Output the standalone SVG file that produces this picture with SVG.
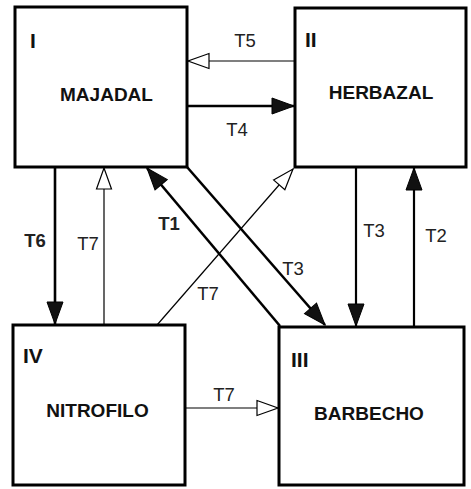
<svg xmlns="http://www.w3.org/2000/svg" width="471" height="489" viewBox="0 0 471 489">
<style>
.box{fill:#fff;stroke:#000;stroke-width:3}
.name{font-family:"Liberation Sans",Arial,sans-serif;font-size:19px;font-weight:bold;text-anchor:middle;fill:#111}
.num{font-family:"Liberation Sans",Arial,sans-serif;font-size:21px;font-weight:bold;fill:#111}
.lbl{font-family:"Liberation Sans",Arial,sans-serif;font-size:18.5px;text-anchor:middle;fill:#222}
.thick{stroke:#000;stroke-width:2.6;fill:none;marker-end:url(#fill)}
.thin{stroke:#000;stroke-width:1.2;fill:none;marker-end:url(#open)}
</style>
<defs>
<marker id="fill" markerUnits="userSpaceOnUse" markerWidth="24" markerHeight="18" refX="22" refY="8" orient="auto" overflow="visible">
<path d="M0,0 L22,8 L0,16 z" fill="#111" stroke="#000" stroke-width="1"/>
</marker>
<marker id="open" markerUnits="userSpaceOnUse" markerWidth="24" markerHeight="18" refX="21" refY="7.5" orient="auto" overflow="visible">
<path d="M0,0 L21,7.5 L0,15 z" fill="#fff" stroke="#000" stroke-width="1.2"/>
</marker>
</defs>
<g id="connectors">
<line class="thin" x1="295" y1="61" x2="188" y2="61"/>
<line class="thick" x1="187" y1="106" x2="294" y2="106"/>
<line class="thick" x1="55" y1="167" x2="55" y2="324"/>
<line class="thin" x1="104" y1="325" x2="104" y2="168"/>
<line class="thick" x1="280" y1="326" x2="147" y2="168"/>
<line class="thick" x1="187" y1="167" x2="325" y2="325"/>
<line class="thin" x1="157" y1="325" x2="293" y2="169"/>
<line class="thick" x1="356" y1="167" x2="356" y2="326" style="stroke-width:2.2"/>
<line class="thick" x1="414" y1="327" x2="414" y2="168" style="stroke-width:2.2"/>
<line class="thin" x1="185" y1="408" x2="278" y2="408"/>
<text class="lbl" x="245" y="47">T5</text>
<text class="lbl" x="237" y="136">T4</text>
<text class="lbl" x="35" y="247" font-weight="bold">T6</text>
<text class="lbl" x="88" y="250">T7</text>
<text class="lbl" x="169" y="230" font-weight="bold">T1</text>
<text class="lbl" x="208" y="300">T7</text>
<text class="lbl" x="293" y="275">T3</text>
<text class="lbl" x="374" y="237">T3</text>
<text class="lbl" x="436" y="242">T2</text>
<text class="lbl" x="224" y="401">T7</text>
</g>
<g id="node-I">
<rect class="box" x="15" y="7" width="172" height="160"/>
<text class="num" x="30" y="48">I</text>
<text class="name" x="106.5" y="101">MAJADAL</text>
</g>
<g id="node-II">
<rect class="box" x="295" y="8" width="171" height="159"/>
<text class="num" x="305" y="47">II</text>
<text class="name" x="381" y="99">HERBAZAL</text>
</g>
<g id="node-III">
<rect class="box" x="279" y="327" width="185" height="158"/>
<text class="num" x="291" y="367">III</text>
<text class="name" x="369" y="420">BARBECHO</text>
</g>
<g id="node-IV">
<rect class="box" x="13" y="325" width="172" height="160"/>
<text class="num" x="23" y="363">IV</text>
<text class="name" x="97.5" y="417">NITROFILO</text>
</g>
</svg>
